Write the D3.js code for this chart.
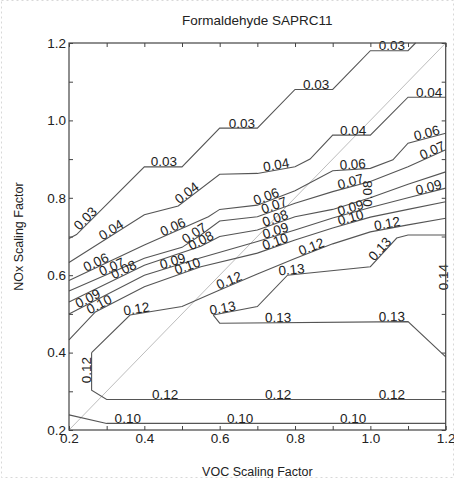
<!DOCTYPE html>
<html>
<head>
<meta charset="utf-8">
<script src="https://cdn.jsdelivr.net/npm/d3@7"></script>
<style>
body { margin: 0; background: #fff; }
text { font-family: "Liberation Sans", Arial, sans-serif; fill: #222; }
</style>
</head>
<body>
<svg id="chart" width="454" height="478"></svg>
<script>
// axis ticks
var tickVals = [0.2, 0.3, 0.4, 0.5, 0.6, 0.7, 0.8, 0.9, 1.0, 1.1, 1.2];

// contour polylines, [VOC, NOx]
var c003 = [[0.2,0.695],[0.22,0.705],[0.4,0.88],[0.5,0.88],[0.6,0.98],[0.7,0.98],[0.8,1.08],[0.9,1.08],[1.0,1.18],[1.1,1.18],[1.12,1.2]];
var c004 = [[0.2,0.633],[0.4,0.756],[0.49,0.779],[0.6,0.861],[0.7,0.863],[0.8,0.88],[0.84,0.90],[0.9,0.962],[1.0,0.962],[1.1,1.06],[1.2,1.06]];
var c006 = [[0.2,0.586],[0.4,0.678],[0.57,0.751],[0.6,0.770],[0.7,0.781],[0.8,0.818],[0.9,0.870],[1.0,0.876],[1.06,0.898],[1.1,0.941],[1.2,0.967]];
var c007 = [[0.2,0.559],[0.4,0.644],[0.5,0.672],[0.55,0.704],[0.6,0.740],[0.7,0.751],[0.8,0.786],[0.9,0.816],[1.0,0.842],[1.1,0.880],[1.2,0.924]];
var c008 = [[0.2,0.531],[0.4,0.626],[0.55,0.675],[0.6,0.700],[0.7,0.717],[0.8,0.751],[0.9,0.770],[1.0,0.800],[1.1,0.835],[1.2,0.867]];
var c009 = [[0.2,0.500],[0.4,0.600],[0.55,0.645],[0.7,0.687],[0.8,0.717],[0.9,0.748],[1.0,0.775],[1.1,0.800],[1.2,0.825]];
var c010 = [[0.2,0.433],[0.27,0.505],[0.4,0.570],[0.55,0.622],[0.7,0.657],[0.8,0.691],[0.9,0.722],[1.0,0.750],[1.1,0.770],[1.2,0.790]];
var c010lo = [[0.2,0.239],[0.3,0.217],[1.2,0.217]];
var c012hi = [[0.26,0.400],[0.362,0.497],[0.5,0.519],[0.6,0.562],[0.7,0.603],[0.8,0.643],[0.9,0.681],[1.0,0.712],[1.1,0.730],[1.2,0.747]];
var c012lo = [[0.26,0.400],[0.26,0.303],[0.3,0.279],[1.2,0.279]];
var c013hi = [[0.583,0.497],[0.70,0.519],[0.78,0.600],[1.0,0.622],[1.07,0.696],[1.1,0.704],[1.2,0.704]];
var c013lo = [[0.583,0.497],[0.6,0.476],[1.1,0.480],[1.2,0.389]];

// where the inline labels sit (VOC value of label centre)
var lab003 = [0.253, 0.452, 0.659, 0.856, 1.057];
var lab004 = [0.319, 0.521, 0.752, 0.954, 1.156];
var lab006 = [0.277, 0.481, 0.728, 0.954, 1.153];
var lab007 = [0.319, 0.540, 0.749, 0.951, 1.17];
var lab008 = [0.351, 0.556, 0.752];
var lab009 = [0.256, 0.479, 0.752, 0.951, 1.158];
var lab010 = [0.286, 0.519, 0.752, 0.951];
var lab010lo = [0.356, 0.654, 0.954];
var lab012hi = [0.381, 0.630, 0.848, 1.047];
var lab012lo = [0.455, 0.755, 1.057];
var lab013hi = [0.61, 0.792, 1.035];
var lab013lo = [0.755, 1.057];

// labels written upright along the line
var vLabels = [
  { level: "0.08", x: 1.005, y: 0.811 },
  { level: "0.12", x: 0.26, y: 0.355 },
  { level: "0.14", x: 1.208, y: 0.595 }
];

var contours = [
  { level: "0.03", pts: c003, at: lab003 },
  { level: "0.04", pts: c004, at: lab004 },
  { level: "0.06", pts: c006, at: lab006 },
  { level: "0.07", pts: c007, at: lab007 },
  { level: "0.08", pts: c008, at: lab008 },
  { level: "0.09", pts: c009, at: lab009 },
  { level: "0.10", pts: c010, at: lab010 },
  { level: "0.10", pts: c010lo, at: lab010lo },
  { level: "0.12", pts: c012hi, at: lab012hi },
  { level: "0.12", pts: c012lo, at: lab012lo },
  { level: "0.13", pts: c013hi, at: lab013hi },
  { level: "0.13", pts: c013lo, at: lab013lo }
];

var MARGIN = { TOP: 43, BOTTOM: 48, LEFT: 69, RIGHT: 8.3 };
var W = 454, H = 478;

var svg = d3.select("#chart");

// faint dotted frame of the picture
svg.append("rect")
  .attr("x", 1.5).attr("y", 0.5)
  .attr("width", W - 2).attr("height", H - 1)
  .attr("fill", "none")
  .attr("stroke", "#d8d8d8")
  .attr("stroke-dasharray", "2,3");

var x = d3.scaleLinear().domain([0.2, 1.2]).range([MARGIN.LEFT, W - MARGIN.RIGHT]);
var y = d3.scaleLinear().domain([0.2, 1.2]).range([H - MARGIN.BOTTOM, MARGIN.TOP]);

var fmt = function(d) { return Math.round(d * 10) % 2 === 0 ? d3.format(".1f")(d) : ""; };

function styleAxis(g) {
  g.select(".domain").remove();
  g.selectAll(".tick line").attr("stroke", "#444");
  g.selectAll(".tick text").attr("font-size", 13.5).attr("fill", "#222")
    .attr("font-family", "'Liberation Sans', Arial, sans-serif");
}

svg.append("g")
  .attr("transform", "translate(0," + y(0.2) + ")")
  .call(d3.axisBottom(x).tickValues(tickVals).tickSize(-4).tickPadding(3).tickFormat(fmt))
  .call(styleAxis);
svg.append("g")
  .attr("transform", "translate(0," + y(1.2) + ")")
  .call(d3.axisTop(x).tickValues(tickVals).tickSize(-4).tickFormat(""))
  .call(styleAxis);
svg.append("g")
  .attr("transform", "translate(" + x(0.2) + ",0)")
  .call(d3.axisLeft(y).tickValues(tickVals).tickSize(-4).tickPadding(3).tickFormat(fmt))
  .call(styleAxis);
svg.append("g")
  .attr("transform", "translate(" + x(1.2) + ",0)")
  .call(d3.axisRight(y).tickValues(tickVals).tickSize(-4).tickFormat(""))
  .call(styleAxis);

// 1:1 line
svg.append("line")
  .attr("x1", x(0.2)).attr("y1", y(0.2))
  .attr("x2", x(1.2)).attr("y2", y(1.2))
  .attr("stroke", "#bdbdbd")
  .attr("stroke-width", 1);

var line = d3.line().x(function(d) { return x(d[0]); }).y(function(d) { return y(d[1]); });

svg.append("g").selectAll("path")
  .data(contours)
  .enter()
  .append("path")
  .attr("d", function(d) { return line(d.pts); })
  .attr("fill", "none")
  .attr("stroke", "#555")
  .attr("stroke-width", 1.1);

// find point & angle on a polyline at a given VOC value
function placeOn(pts, vx) {
  for (var i = 0; i < pts.length - 1; i++) {
    var a = pts[i], b = pts[i + 1];
    var lo = Math.min(a[0], b[0]), hi = Math.max(a[0], b[0]);
    if (vx >= lo && vx <= hi && hi > lo) {
      var t = (vx - a[0]) / (b[0] - a[0]);
      var px = x(vx), py = y(a[1] + t * (b[1] - a[1]));
      var p1 = [x(a[0]), y(a[1])], p2 = [x(b[0]), y(b[1])];
      if (p2[0] < p1[0]) { var tmp = p1; p1 = p2; p2 = tmp; }
      var ang = Math.atan2(p2[1] - p1[1], p2[0] - p1[0]) * 180 / Math.PI;
      return { px: px, py: py, ang: ang };
    }
  }
  return null;
}

var labels = [];
contours.forEach(function(c) {
  c.at.forEach(function(vx) {
    var p = placeOn(c.pts, vx);
    if (p) labels.push({ level: c.level, px: p.px, py: p.py, ang: p.ang });
  });
});

svg.append("g").selectAll("text")
  .data(labels)
  .enter()
  .append("text")
  .attr("transform", function(d) { return "translate(" + d.px + "," + d.py + ") rotate(" + d.ang + ")"; })
  .attr("text-anchor", "middle")
  .attr("dy", -0.5)
  .attr("font-size", 13.5)
  .text(function(d) { return d.level; });

svg.append("g").selectAll("text")
  .data(vLabels)
  .enter()
  .append("text")
  .attr("transform", function(d) { return "translate(" + x(d.x) + "," + y(d.y) + ") rotate(-90)"; })
  .attr("text-anchor", "middle")
  .attr("dy", -0.5)
  .attr("font-size", 13.5)
  .text(function(d) { return d.level; });

// frame
svg.append("rect")
  .attr("x", x(0.2)).attr("y", y(1.2))
  .attr("width", x(1.2) - x(0.2)).attr("height", y(0.2) - y(1.2))
  .attr("fill", "none")
  .attr("stroke", "#444")
  .attr("stroke-width", 1.2);

// titles
svg.append("text")
  .attr("x", (x(0.2) + x(1.2)) / 2).attr("y", 25)
  .attr("text-anchor", "middle")
  .attr("font-size", 13.5)
  .text("Formaldehyde SAPRC11");

svg.append("text")
  .attr("x", (x(0.2) + x(1.2)) / 2).attr("y", 476)
  .attr("text-anchor", "middle")
  .attr("font-size", 12.5)
  .text("VOC Scaling Factor");

svg.append("text")
  .attr("transform", "translate(23," + (y(0.2) + y(1.2)) / 2 + ") rotate(-90)")
  .attr("text-anchor", "middle")
  .attr("font-size", 12.5)
  .text("NOx Scaling Factor");
</script>
</body>
</html>
